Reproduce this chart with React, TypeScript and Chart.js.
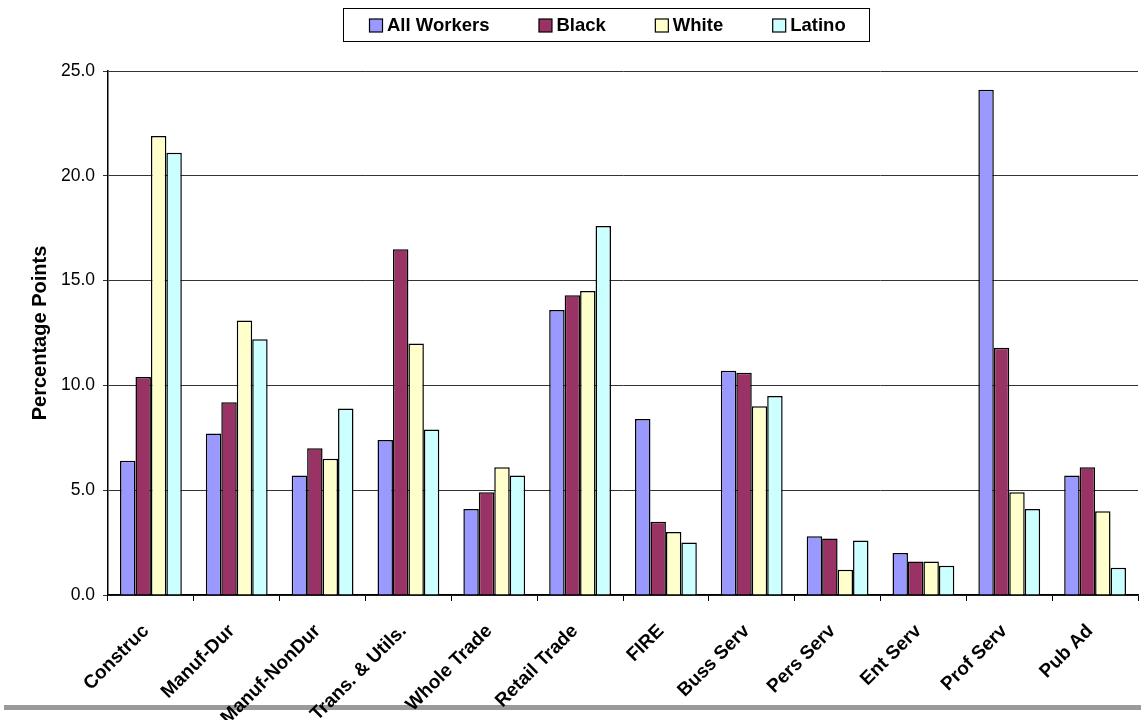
import React, { useEffect, useRef } from 'react';
import { Chart, registerables } from 'chart.js';

Chart.register(...registerables);

// Industry categories along the x axis
const industries = [
  'Construc',
  'Manuf-Dur',
  'Manuf-NonDur',
  'Trans. & Utils.',
  'Whole Trade',
  'Retail Trade',
  'FIRE',
  'Buss Serv',
  'Pers Serv',
  'Ent Serv',
  'Prof Serv',
  'Pub Ad',
];

// Percentage points by group
const allWorkers = [6.4, 7.7, 5.7, 7.4, 4.1, 13.6, 8.4, 10.7, 2.8, 2.0, 24.1, 5.7];
const black = [10.4, 9.2, 7.0, 16.5, 4.9, 14.3, 3.5, 10.6, 2.7, 1.6, 11.8, 6.1];
const white = [21.9, 13.1, 6.5, 12.0, 6.1, 14.5, 3.0, 9.0, 1.2, 1.6, 4.9, 4.0];
const latino = [21.1, 12.2, 8.9, 7.9, 5.7, 17.6, 2.5, 9.5, 2.6, 1.4, 4.1, 1.3];

const seriesLabels = ['All Workers', 'Black', 'White', 'Latino'];
const seriesColors = ['#9999FF', '#993366', '#FFFFCC', '#CCFFFF'];

// Value axis ticks
const yTicks = [0, 5, 10, 15, 20, 25];

const FONT = '"Liberation Sans", Arial, Helvetica, sans-serif';

// Legend drawn as a single framed row above the plot
const framedLegend = {
  id: 'framedLegend',
  afterDraw(chart: any) {
    const ctx = chart.ctx as CanvasRenderingContext2D;
    ctx.save();
    ctx.font = `bold 18.5px ${FONT}`;
    const box = 13;
    const gapBoxText = 5;
    const gapItems = 49;
    const items = chart.data.datasets.map((ds: any) => ({
      label: ds.label as string,
      color: ds.backgroundColor as string,
      w: ctx.measureText(ds.label).width,
    }));
    const contentW =
      items.reduce((s: number, it: any) => s + box + gapBoxText + it.w, 0) +
      gapItems * (items.length - 1);
    const startX = 369;
    const cy = 25;
    const frameL = startX - 26 + 0.5;
    const frameW = Math.round(contentW + 26 + 23);
    ctx.lineWidth = 1;
    ctx.strokeStyle = '#000';
    ctx.fillStyle = '#fff';
    ctx.fillRect(frameL, 8.5, frameW, 33);
    ctx.strokeRect(frameL, 8.5, frameW, 33);

    let x = startX;
    ctx.textBaseline = 'middle';
    ctx.textAlign = 'left';
    for (const it of items) {
      ctx.fillStyle = it.color;
      ctx.fillRect(x + 0.5, cy - box / 2 + 0.5, box, box);
      ctx.strokeStyle = '#000';
      ctx.lineWidth = 1.2;
      ctx.strokeRect(x + 0.5, cy - box / 2 + 0.5, box, box);
      ctx.fillStyle = '#000';
      ctx.fillText(it.label, x + box + gapBoxText, cy + 1);
      x += box + gapBoxText + it.w + gapItems;
    }
    ctx.restore();
  },
};

// Grey rule along the bottom of the frame
const bottomRule = {
  id: 'bottomRule',
  beforeDraw(chart: any) {
    const ctx = chart.ctx as CanvasRenderingContext2D;
    ctx.save();
    ctx.fillStyle = '#9a9a9a';
    ctx.fillRect(4, 705, 1137, 5);
    ctx.restore();
  },
};

export default function App() {
  const canvasRef = useRef<HTMLCanvasElement | null>(null);

  useEffect(() => {
    if (!canvasRef.current) return;
    const values = [allWorkers, black, white, latino];
    const chart = new Chart(canvasRef.current, {
      type: 'bar',
      data: {
        labels: industries,
        datasets: seriesLabels.map((label, i) => ({
          label,
          data: values[i],
          backgroundColor: seriesColors[i],
          borderColor: '#000',
          borderWidth: 1.5,
          categoryPercentage: 0.72,
          barPercentage: 1,
        })),
      },
      options: {
        animation: false,
        responsive: false,
        layout: { padding: { top: 71, right: 5, left: 0, bottom: 0 } },
        plugins: {
          legend: { display: false },
          tooltip: { enabled: false },
        },
        scales: {
          x: {
            offset: true,
            grid: {
              display: true,
              offset: true,
              drawOnChartArea: false,
              drawTicks: true,
              tickLength: 6,
              color: '#000',
            },
            border: { display: true, color: '#000', width: 1.5 },
            ticks: {
              autoSkip: false,
              minRotation: 45,
              maxRotation: 45,
              color: '#000',
              padding: 19,
              labelOffset: -5,
              font: { family: FONT, size: 19, weight: 'bold' },
            },
            afterFit(scale: any) {
              scale.height = 125;
            },
          },
          y: {
            min: 0,
            max: 25,
            afterBuildTicks(scale: any) {
              scale.ticks = yTicks.map((v) => ({ value: v }));
            },
            ticks: {
              color: '#000',
              padding: 8,
              font: { family: FONT, size: 17.5 },
              callback: (v: any) => Number(v).toFixed(1),
            },
            grid: {
              color: '#333',
              lineWidth: 1,
              drawTicks: true,
              tickLength: 5,
            },
            border: { display: true, color: '#000', width: 1.5 },
            title: {
              display: true,
              text: 'Percentage Points',
              color: '#000',
              font: { family: FONT, size: 20, weight: 'bold' },
              padding: { top: 28, bottom: 0 },
            },
            afterFit(scale: any) {
              scale.width = 108;
            },
          },
        },
      },
      plugins: [bottomRule, framedLegend],
    });
    return () => chart.destroy();
  }, []);

  return (
    <div style={{ position: 'fixed', left: 0, top: 0, width: 1143, height: 720, background: '#fff' }}>
      <canvas ref={canvasRef} width={1143} height={720} />
    </div>
  );
}
